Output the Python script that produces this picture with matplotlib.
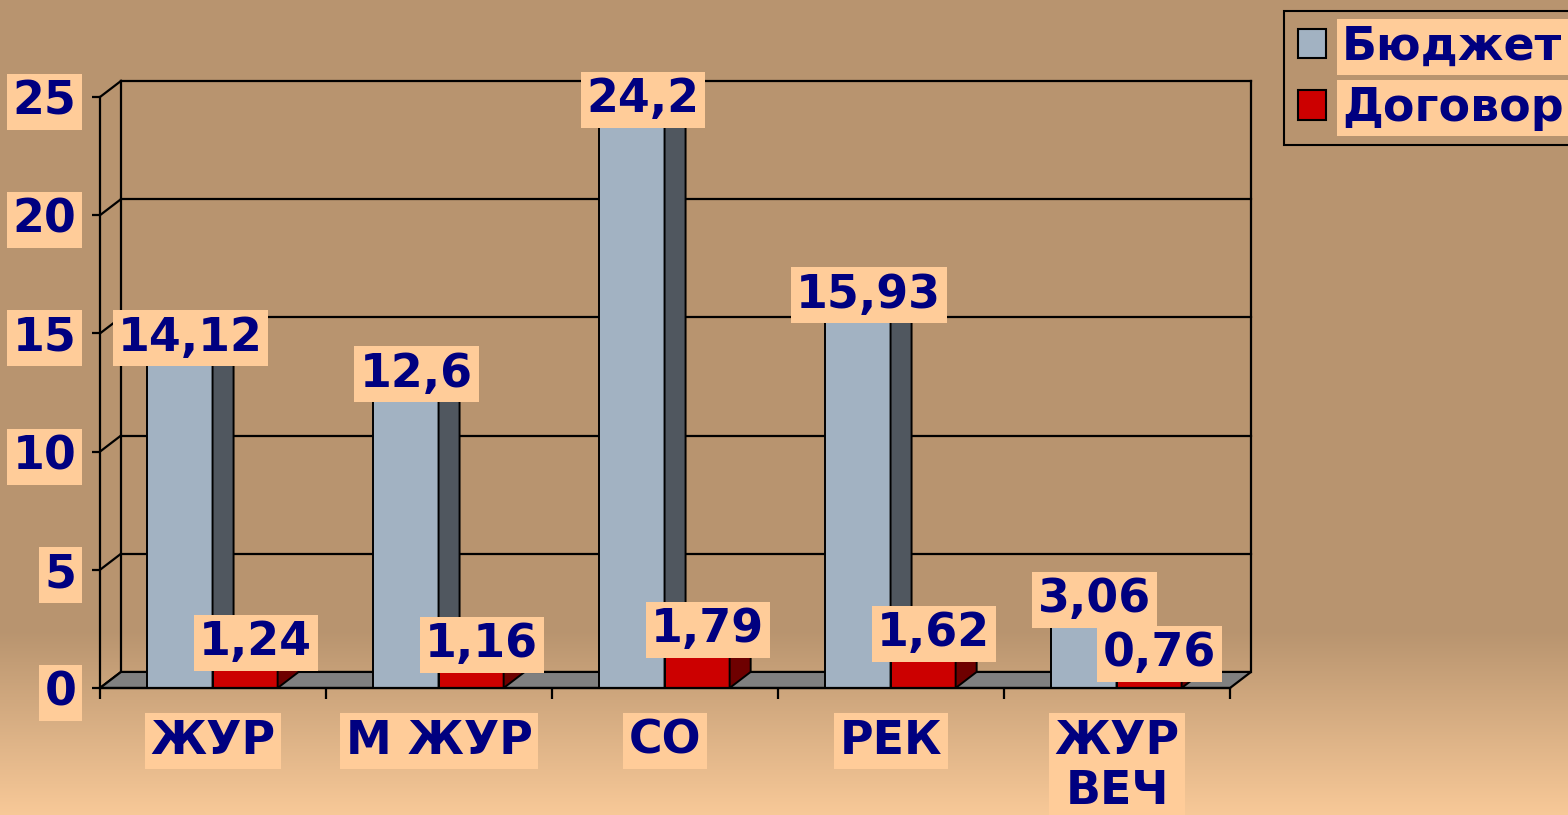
import numpy as np
import matplotlib.pyplot as plt
import matplotlib.patches as mpatches

categories = ['ЖУР', 'М ЖУР', 'СО', 'РЕК', 'ЖУР\nВЕЧ']
budget = [14.12, 12.6, 24.2, 15.93, 3.06]
contract = [1.24, 1.16, 1.79, 1.62, 0.76]
series_names = ['Бюджет', 'Договор']
yticks = [0, 5, 10, 15, 20, 25]

W, H = 1568, 815
navy = '#000080'
peach = '#FFCC99'
tan = '#B8946F'
label_box = dict(boxstyle='square,pad=0.12', fc=peach, ec='none')
font = dict(family='DejaVu Sans', weight='bold', color=navy)

fig = plt.figure(figsize=(W / 100, H / 100), dpi=100)

# background: flat tan, fading to peach at the bottom
bg = fig.add_axes([0, 0, 1, 1], zorder=0)
rows = np.arange(H)
t = np.clip((rows - 630) / (H - 630), 0, 1)[:, None]
top = np.array([184, 148, 111]) / 255
bottom = np.array([248, 201, 152]) / 255
grad = (top * (1 - t) + bottom * t)[:, None, :]
bg.imshow(grad, aspect='auto', extent=[0, 1, 0, 1])
bg.axis('off')

ax = fig.add_axes([100 / W, (H - 688) / H, 1130 / W, 591 / H], zorder=1)
ax.patch.set_alpha(0)
ax.set_xlim(-0.5, 4.5)
ax.set_ylim(0, 25)

# fake 3D depth offsets (data units)
dx, dy = 0.093, 0.68
x0, x1 = -0.5, 4.5
lw = 1.6

# back wall gridlines and edges
for y in yticks[1:]:
    ax.plot([x0 + dx, x1 + dx], [y + dy, y + dy], color='black', lw=lw, zorder=1, clip_on=False)
for y in yticks:
    ax.plot([x0, x0 + dx], [y, y + dy], color='black', lw=lw, zorder=1, clip_on=False)
ax.plot([x0 + dx, x0 + dx], [dy, 25 + dy], color='black', lw=lw, zorder=1, clip_on=False)
ax.plot([x1 + dx, x1 + dx], [dy, 25 + dy], color='black', lw=lw, zorder=1, clip_on=False)

# floor
floor = mpatches.Polygon([(x0, 0), (x1, 0), (x1 + dx, dy), (x0 + dx, dy)],
                         closed=True, fc='#808080', ec='black', lw=lw, zorder=2, clip_on=False)
ax.add_patch(floor)


def bar3d(left, width, h, front, side, topc, z):
    ax.bar(left, h, width=width, align='edge', color=front, edgecolor='black', lw=1.4, zorder=z)
    for l, v in zip(left, h):
        r = l + width
        ax.add_patch(mpatches.Polygon([(r, 0), (r + dx, dy), (r + dx, v + dy), (r, v)],
                                      closed=True, fc=side, ec='black', lw=1.4, zorder=z, clip_on=False))
        ax.add_patch(mpatches.Polygon([(l, v), (r, v), (r + dx, v + dy), (l + dx, v + dy)],
                                      closed=True, fc=topc, ec='black', lw=1.4, zorder=z, clip_on=False))


xs = np.arange(len(categories))
w = 0.288
blue_left = xs - 0.29
red_left = xs - 0.002
bar3d(blue_left, w, budget, '#A2B2C2', '#50575F', '#C5D0DA', 3)
bar3d(red_left, w, contract, '#CC0000', '#6E0000', '#E41010', 4)

for l, v in zip(blue_left, budget):
    ax.text(l + w / 2 + dx / 2, v + dy, f'{v:g}'.replace('.', ','), ha='center', va='center',
            fontsize=33, bbox=label_box, zorder=10, **font)
for l, v in zip(red_left, contract):
    ax.text(l + w / 2 + dx / 2, v + dy, f'{v:g}'.replace('.', ','), ha='center', va='center',
            fontsize=33, bbox=label_box, zorder=10, **font)

# axes, ticks and tick labels
for s in ['top', 'right']:
    ax.spines[s].set_visible(False)
ax.spines['left'].set_linewidth(lw)
ax.spines['bottom'].set_linewidth(lw)
ax.spines['left'].set_zorder(5)
ax.spines['bottom'].set_zorder(5)

ax.set_yticks(yticks)
ax.set_yticklabels([str(v) for v in yticks])
ax.tick_params(axis='y', length=6, width=lw, pad=11, labelsize=33)
ax.set_xticks(xs)
ax.set_xticklabels(categories, linespacing=1.15)
ax.set_xticks(np.arange(-0.5, 5, 1), minor=True)
ax.tick_params(axis='x', which='major', length=0, pad=22, labelsize=33)
ax.tick_params(axis='x', which='minor', length=8, width=lw)
for lbl in ax.get_yticklabels() + ax.get_xticklabels():
    lbl.set_fontweight('bold')
    lbl.set_color(navy)
    lbl.set_bbox(label_box)

# legend
handles = [mpatches.Patch(fc='#A2B2C2', ec='black', lw=1.5),
           mpatches.Patch(fc='#CC0000', ec='black', lw=1.5)]
leg = fig.legend(handles, series_names, loc='upper left', bbox_to_anchor=(1284 / W, 1 - 11 / H),
                 fancybox=False, facecolor=tan, edgecolor='black', framealpha=1,
                 prop=dict(family='DejaVu Sans', weight='bold', size=33),
                 handlelength=0.62, handleheight=0.62, handletextpad=0.35,
                 labelspacing=0.35, borderpad=0.3, borderaxespad=0)
leg.get_frame().set_linewidth(1.5)
for txt in leg.get_texts():
    txt.set_color(navy)
    txt.set_bbox(label_box)

fig.savefig('out.png', dpi=100)
